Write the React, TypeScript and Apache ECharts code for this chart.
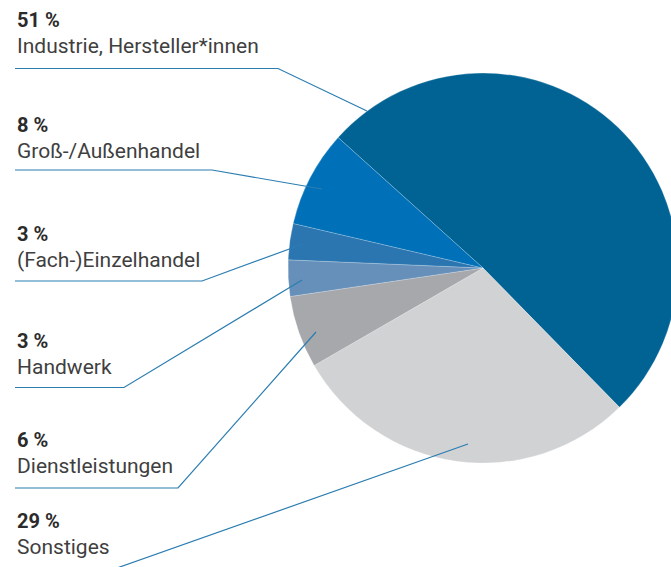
import React, { useEffect, useRef } from "react";
import * as echarts from "echarts";

// Data (clockwise order from the top-left)
const categories = [
  "Industrie, Hersteller*innen",
  "Sonstiges",
  "Dienstleistungen",
  "Handwerk",
  "(Fach-)Einzelhandel",
  "Groß-/Außenhandel",
];
const shares = [51, 29, 6, 3, 3, 8];

// Styles
const sliceColors = ["#006394", "#d1d2d4", "#a7a8ac", "#6690b9", "#2b76b1", "#0071b9"];
const leaderColor = "#2b7db0";

// Label layout (per slice): label box top, leader line y, knee x, anchor in slice
const labelTop = [8, 509, 428, 329, 222, 113];
const leaderY = [68.5, 568, 488, 387.5, 281, 170];
const kneeX = [278, 117, 178, 124, 202, 212];
const anchors = [
  [367, 111],
  [468, 444],
  [316, 332],
  [302, 280],
  [303, 244],
  [322, 189],
];
const leaderStartX = 15;

export default function App() {
  const ref = useRef<HTMLDivElement>(null);
  useEffect(() => {
    if (!ref.current) return;
    const chart = echarts.init(ref.current, undefined, { renderer: "svg" });
    chart.setOption({
      animation: false,
      backgroundColor: "#ffffff",
      graphic: categories.map((_, i) => ({
        type: "polyline",
        z: 100,
        silent: true,
        shape: {
          points: [anchors[i], [kneeX[i], leaderY[i]], [leaderStartX, leaderY[i]]],
        },
        style: { stroke: leaderColor, lineWidth: 1.2, fill: null },
      })),
      series: [
        {
          type: "pie",
          center: [483, 268],
          radius: 195,
          startAngle: 138,
          clockwise: true,
          avoidLabelOverlap: false,
          silent: true,
          emphasis: { disabled: true },
          itemStyle: { borderColor: "rgba(255,255,255,0.35)", borderWidth: 0.6 },
          data: categories.map((c, i) => ({
            name: c,
            value: shares[i],
            itemStyle: { color: sliceColors[i] },
          })),
          label: {
            show: true,
            position: "outside",
            formatter: (p: any) => `{pct|${p.value} %}\n{nm|${p.name}}`,
            rich: {
              pct: {
                fontFamily: "Roboto",
                fontWeight: "bold",
                fontSize: 20,
                lineHeight: 24,
                color: "#2b2b2b",
                align: "left",
              },
              nm: {
                fontFamily: "Roboto",
                fontSize: 21,
                lineHeight: 27,
                color: "#3f3f3f",
                align: "left",
              },
            },
          },
          labelLine: { show: false },
          labelLayout: (params: any) => {
            const i = params.dataIndex;
            return {
              x: 17,
              y: labelTop[i],
              align: "left",
              verticalAlign: "top",
            };
          },
        },
      ],
    });
    return () => chart.dispose();
  }, []);
  return (
    <div
      ref={ref}
      style={{ position: "fixed", left: 0, top: 0, width: 671, height: 567 }}
    />
  );
}
